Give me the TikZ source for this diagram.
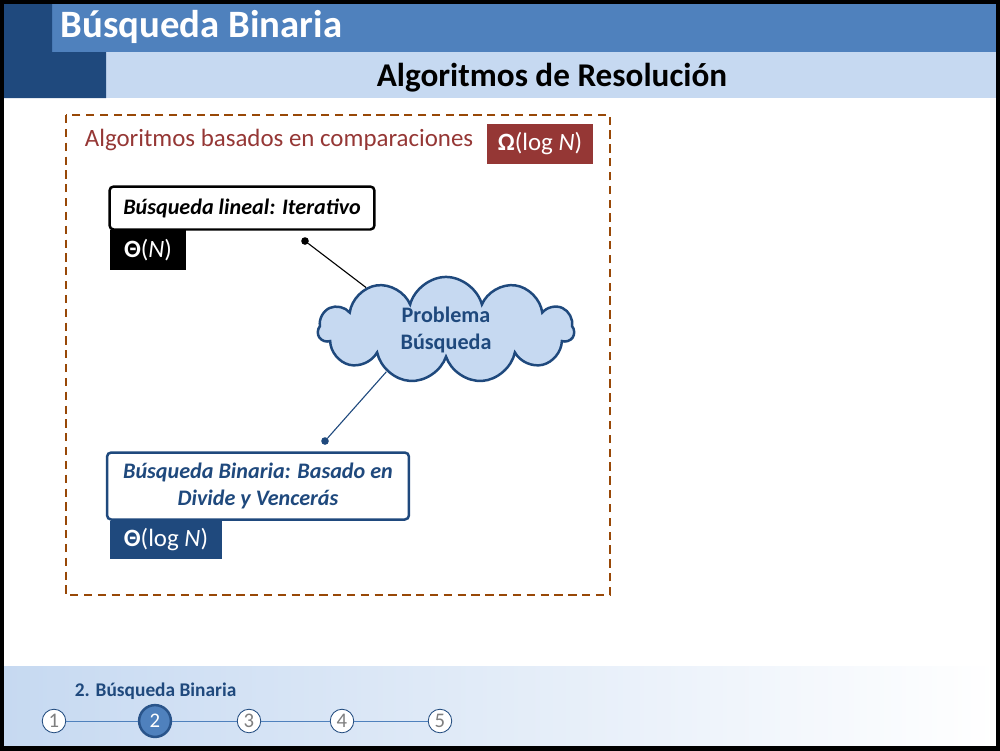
\documentclass[tikz,border=0pt]{standalone}
\usepackage{fontspec}
\setmainfont{Carlito}
\usepackage{tikz}
\usetikzlibrary{shapes.symbols}

\definecolor{darkblue}{HTML}{1F497D}
\definecolor{midblue}{HTML}{4F81BD}
\definecolor{paleblue}{HTML}{C6D9F1}
\definecolor{brickred}{HTML}{953735}
\definecolor{rust}{HTML}{984807}
\definecolor{stepgray}{HTML}{7F7F7F}

\tikzset{
  textbox/.style={draw,rounded corners=3pt,line width=1.8pt,fill=white,align=center,font=\fontsize{16}{20}\selectfont\bfseries\itshape},
  costbox/.style={rectangle,text=white,inner sep=0pt,font=\fontsize{18}{20}\selectfont},
  joint/.style={circle,fill,inner sep=0pt,minimum size=5.5pt},
  stepdot/.style={circle,draw=darkblue,line width=0.6pt,fill=white,text=stepgray,inner sep=0pt,minimum size=17pt,font=\fontsize{15}{15}\selectfont},
}

\begin{document}
\begin{tikzpicture}[x=0.0254cm,y=-0.0254cm]
\useasboundingbox (0,0) rectangle (1000,750);
% header bars
\fill[midblue] (52,0) rectangle (1000,52);
\fill[paleblue] (106,52) rectangle (1000,98);
\fill[darkblue] (0,0) -- (52,0) -- (52,52) -- (106,52) -- (106,98) -- (0,98) -- cycle;
\node (title) [anchor=west,text=white,font=\fontsize{28}{30}\selectfont\bfseries] at (56,27) {Búsqueda Binaria};
\node (subtitle) [font=\fontsize{24}{28}\selectfont\bfseries] at (552,78) {Algoritmos de Resolución};

% footer
\shade[left color=paleblue,right color=white] (3,666) rectangle (997,746);
\node (section) [anchor=west,text=darkblue,font=\fontsize{14}{16}\selectfont\bfseries] at (70,691) {2. Búsqueda Binaria};
\node (s1) [stepdot] at (54,721) {1};
\node (s2) [stepdot,fill=midblue,draw=darkblue!80!midblue,line width=1.8pt,text=white,minimum size=23pt] at (155,721) {2};
\node (s3) [stepdot] at (249,721) {3};
\node (s4) [stepdot] at (342,721) {4};
\node (s5) [stepdot] at (440,721) {5};
\draw[midblue,line width=0.7pt] (s1) -- (s2) -- (s3) -- (s4) -- (s5);

% comparison family
\draw[rust,line width=1.8pt,dash pattern=on 6pt off 4pt] (66,115) rectangle (610,595);
\node (family) [anchor=west,text=brickred,font=\fontsize{18}{20}\selectfont] at (80,140) {Algoritmos basados en comparaciones};
\node (omega) [costbox,fill=brickred,minimum width=107*0.254mm,minimum height=40*0.254mm] at (540,144) {{\bfseries Ω}(log \textit{N})};

\node (linear) [textbox,minimum width=265*0.254mm,minimum height=43*0.254mm] at (242,208) {Búsqueda lineal: Iterativo};
\node (thetaN) [costbox,fill=black,minimum width=76*0.254mm,minimum height=40*0.254mm] at (148,250) {{\bfseries Θ}(\textit{N})};

\node (binary) [textbox,draw=darkblue,text=darkblue,minimum width=302*0.254mm,minimum height=67*0.254mm] at (258,486) {Búsqueda Binaria: Basado en\\Divide y Vencerás};
\node (thetalog) [costbox,fill=darkblue,minimum width=112*0.254mm,minimum height=38*0.254mm] at (166,540) {{\bfseries Θ}(log \textit{N})};

\node (problem) [cloud,cloud puffs=11,aspect=3,draw=darkblue,fill=paleblue,line width=1.8pt,inner sep=0pt,minimum width=256*0.254mm,minimum height=70*0.254mm,text=darkblue,align=center,font=\fontsize{16}{20}\selectfont\bfseries] at (446,330) {Problema\\Búsqueda};

\node (d1) [joint] at (305,241) {};
\node (d2) [joint,darkblue] at (325,441) {};
\draw[line width=0.8pt] (d1) -- (problem.152);
\draw[darkblue,line width=0.8pt] (d2) -- (problem.-145);

\draw[line width=3pt] (1.5,1.5) rectangle (998.5,748.5);
\end{tikzpicture}
\end{document}
